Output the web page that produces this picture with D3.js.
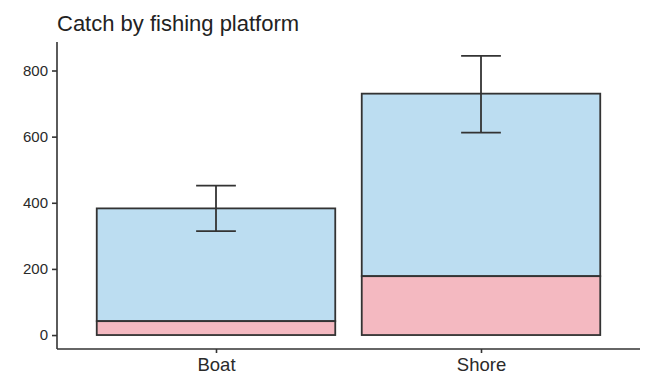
<!DOCTYPE html>
<html>
<head>
<meta charset="utf-8">
<script src="https://cdn.jsdelivr.net/npm/d3@7"></script>
<style>
  body { margin: 0; background: #fff; }
  svg { display: block; font-family: "Liberation Sans", Arial, sans-serif; }
</style>
</head>
<body>
<svg id="chart" width="645" height="381"></svg>
<script>
// Catch per platform, split into two stacked components
const platforms = ["Boat", "Shore"];
const lowerPart = [42, 178];      // pink segment
const totalCatch = [383, 730];    // full bar height
const errLow = [314, 612];
const errHigh = [452, 844];
const yTicks = [0, 200, 400, 600, 800];
const title = "Catch by fishing platform";

const svg = d3.select("#chart");
const margin = { left: 57, top: 42 };
const plotRight = 640, plotBottom = 349;

// continuous y with 5% expansion on both ends
const yMin = 0, yMax = d3.max(errHigh);
const pad = (yMax - yMin) * 0.05;
const y = d3.scaleLinear()
  .domain([yMin - pad, yMax + pad])
  .range([plotBottom, margin.top]);

// discrete x positions 1..n, expanded by 0.6 units each side
const xc = d3.scaleLinear()
  .domain([0.4, platforms.length + 0.6])
  .range([margin.left, plotRight]);
const barW = 0.9, capW = 0.15;

const stroke = "#333333";
const g = svg.append("g");

platforms.forEach((p, i) => {
  const cx = i + 1;
  const x0 = xc(cx - barW / 2), x1 = xc(cx + barW / 2);
  // upper (blue) segment
  g.append("rect")
    .attr("x", x0).attr("width", x1 - x0)
    .attr("y", y(totalCatch[i]))
    .attr("height", y(lowerPart[i]) - y(totalCatch[i]))
    .attr("fill", "#BCDDF1")
    .attr("stroke", stroke)
    .attr("stroke-width", 1.8);
  // lower (pink) segment
  g.append("rect")
    .attr("x", x0).attr("width", x1 - x0)
    .attr("y", y(lowerPart[i]))
    .attr("height", y(0) - y(lowerPart[i]))
    .attr("fill", "#F4B9C1")
    .attr("stroke", stroke)
    .attr("stroke-width", 1.8);
  // error bar
  const eb = g.append("g").attr("stroke", stroke).attr("stroke-width", 1.8).attr("fill", "none");
  eb.append("line")
    .attr("x1", xc(cx)).attr("x2", xc(cx))
    .attr("y1", y(errLow[i])).attr("y2", y(errHigh[i]));
  [errLow[i], errHigh[i]].forEach(v => {
    eb.append("line")
      .attr("x1", xc(cx - capW / 2)).attr("x2", xc(cx + capW / 2))
      .attr("y1", y(v)).attr("y2", y(v));
  });
});

// y axis
const yAxis = d3.axisLeft(y).tickValues(yTicks).tickSize(5).tickPadding(4).tickFormat(d3.format("d"));
const gy = svg.append("g").attr("transform", `translate(${margin.left},0)`).call(yAxis);
gy.select(".domain").attr("d", `M0,${margin.top}V${plotBottom}`);
gy.selectAll("path, line").attr("stroke", stroke).attr("stroke-width", 1.6);
gy.selectAll("text").attr("fill", "#2a2a2a").style("font-size", "15px");

// x axis
const xAxis = d3.axisBottom(xc).tickValues(platforms.map((_, i) => i + 1))
  .tickFormat((d) => platforms[d - 1]).tickSize(4).tickPadding(5);
const gx = svg.append("g").attr("transform", `translate(0,${plotBottom})`).call(xAxis);
gx.select(".domain").attr("d", `M${margin.left},0H${plotRight}`);
gx.selectAll("path, line").attr("stroke", stroke).attr("stroke-width", 1.6);
gx.selectAll("text").attr("fill", "#2a2a2a").style("font-size", "18.5px");

// title
svg.append("text")
  .attr("x", 57).attr("y", 31)
  .attr("fill", "#222")
  .style("font-size", "22px")
  .text(title);
</script>
</body>
</html>
